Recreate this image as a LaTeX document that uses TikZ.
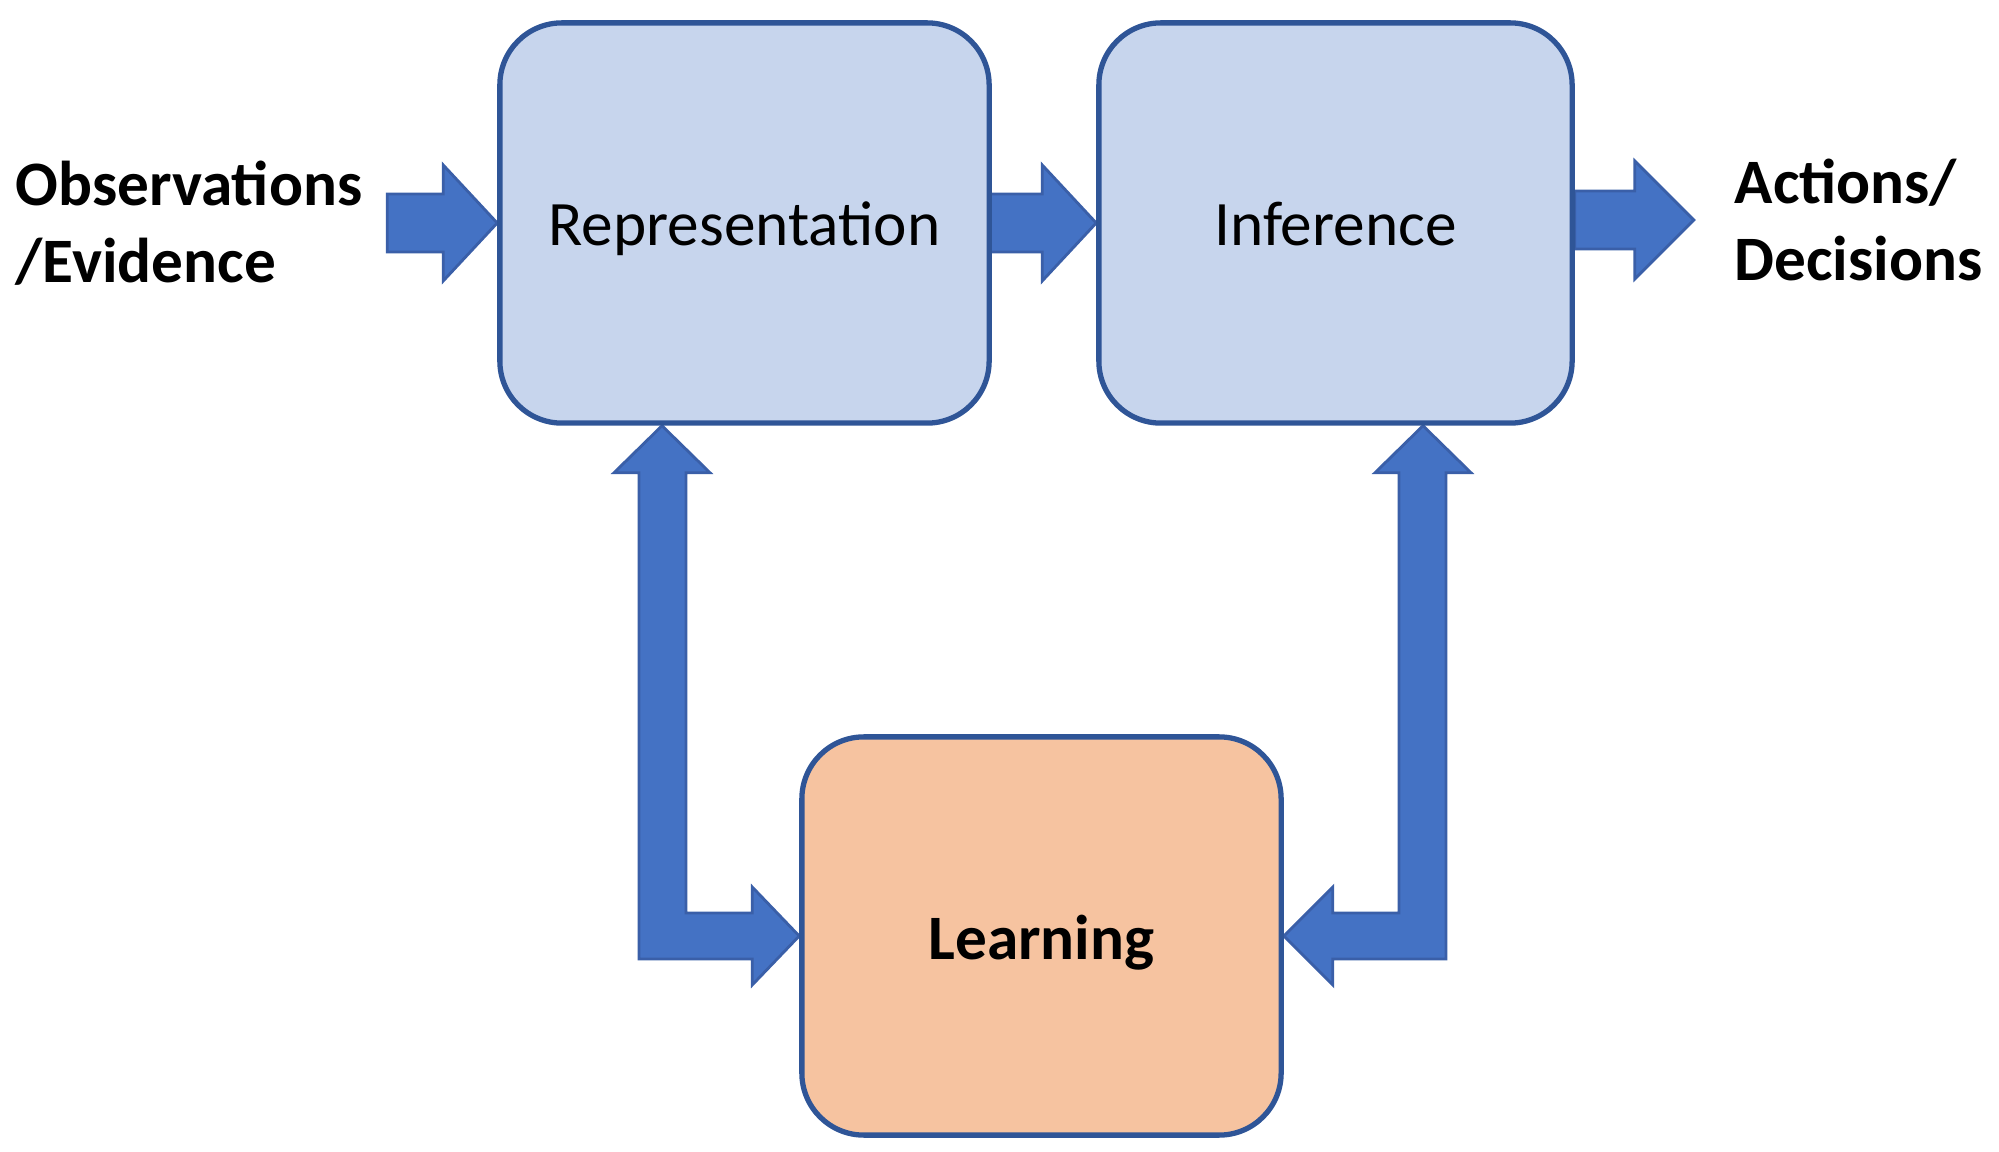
\documentclass[tikz,border=0pt]{standalone}
\usepackage{fontspec}
\setmainfont{Carlito}
\usetikzlibrary{calc,backgrounds}
\definecolor{boxfill}{HTML}{C7D5ED}
\definecolor{boxline}{HTML}{2F5597}
\definecolor{arrfill}{HTML}{4472C4}
\definecolor{arrline}{HTML}{3A5FA8}
\definecolor{learnfill}{HTML}{F6C3A0}
\tikzset{
  blockbox/.style={draw=boxline, line width=1.5pt, rounded corners=0.62cm, fill=boxfill,
    font=\fontsize{18}{21.6}\selectfont, inner sep=0pt, text height=12.6pt, text depth=0pt},
  barrow/.style={fill=arrfill, draw=arrline, line width=0.8pt, line join=miter},
  sidelabel/.style={font=\bfseries\fontsize{18}{21.8}\selectfont, align=left, inner sep=0pt, anchor=west}
}
\begin{document}
\begin{tikzpicture}[x=0.01cm,y=-0.01cm]
\useasboundingbox (0,0) rectangle (1999,1152);
% boxes
\node[blockbox, minimum width=4.89cm, minimum height=4.0cm] (rep) at (744.5,223) {Representation};
\node[blockbox, minimum width=4.73cm, minimum height=4.0cm] (inf) at (1335.5,223) {Inference};
\node[blockbox, fill=learnfill, minimum width=4.79cm, minimum height=3.98cm, text height=13.6pt,
  font=\bfseries\fontsize{18}{21.6}\selectfont] (learn) at (1041.5,936) {Learning};
% side labels
\node[sidelabel] (obs) at (15,223) {Observations\\/Evidence};
\node[sidelabel] (act) at (1734,220) {Actions/\\Decisions};
\begin{scope}[on background layer]
% horizontal block arrows
\draw[barrow] (rep.west) -- ++(-54,-58) -- ++(0,29) -- ++(-56,0) -- ++(0,58) -- ++(56,0) -- ++(0,29) -- cycle;
\draw[barrow] (inf.west) -- ++(-54,-58) -- ++(0,29) -- ++(-56,0) -- ++(0,58) -- ++(56,0) -- ++(0,29) -- cycle;
\coordinate (actTip) at ($(inf.east)+(119,-3)$);
\draw[barrow] (actTip) -- ++(-59,-59) -- ++(0,30) -- ++(-60,0) -- ++(0,58) -- ++(60,0) -- ++(0,30) -- cycle;
% left feedback arrow
\coordinate (lx) at (662,0);
\coordinate (lt) at (rep.south -| lx);
\draw[barrow] (lt) -- ++(48,47) -- ++(-24,0) |- ($(learn.west)+(-47,-23)$) -- ++(0,-26) -- (learn.west)
  -- ++(-47,49) -- ++(0,-26) -| ($(lt)+(-23,47)$) -- ++(-25,0) -- cycle;
% right feedback arrow
\coordinate (rx) at (1423,0);
\coordinate (rt) at (inf.south -| rx);
\draw[barrow] (rt) -- ++(-48,47) -- ++(24,0) |- ($(learn.east)+(49,-23)$) -- ++(0,-26) -- (learn.east)
  -- ++(49,49) -- ++(0,-26) -| ($(rt)+(23,47)$) -- ++(25,0) -- cycle;
\end{scope}
\end{tikzpicture}
\end{document}
